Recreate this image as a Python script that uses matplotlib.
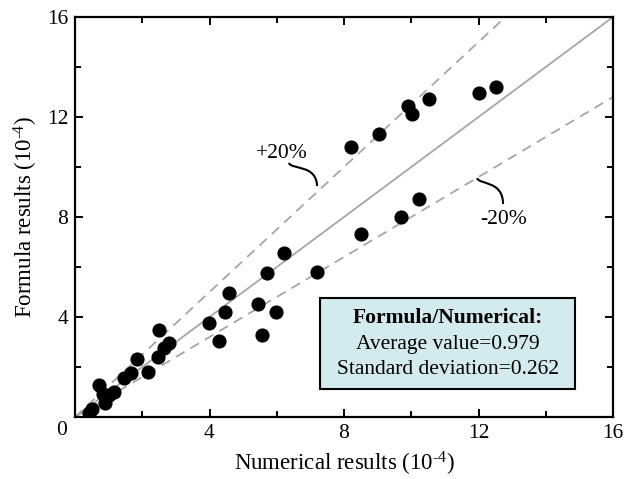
import matplotlib
matplotlib.use("Agg")
import matplotlib.pyplot as plt
import numpy as np
from matplotlib.path import Path
from matplotlib.patches import PathPatch, Rectangle

plt.rcParams['font.family'] = ['Liberation Serif', 'DejaVu Serif']
plt.rcParams['mathtext.fontset'] = 'custom'
plt.rcParams['mathtext.rm'] = 'Liberation Serif'
plt.rcParams['mathtext.it'] = 'Liberation Serif:italic'

# Numerical vs formula results (units of 1e-4)
numerical = [0.43, 0.50, 0.72, 0.82, 0.89, 1.02, 1.17, 1.47, 1.66, 1.85, 2.18,
             2.48, 2.51, 2.66, 2.80, 3.99, 4.29, 4.46, 4.57, 5.44, 5.56, 5.71,
             5.98, 6.22, 7.19, 8.51, 9.70, 10.22, 8.21, 9.03, 9.90, 10.02,
             10.52, 12.02, 12.52]
formula = [0.15, 0.31, 1.28, 0.91, 0.55, 0.88, 1.01, 1.55, 1.77, 2.31, 1.81,
           2.41, 3.48, 2.77, 2.97, 3.75, 3.05, 4.19, 4.96, 4.52, 3.29, 5.77,
           4.19, 6.57, 5.81, 7.31, 8.01, 8.71, 10.80, 11.33, 12.44, 12.13,
           12.72, 12.97, 13.19]

axis_max = 16
major_ticks = [0, 4, 8, 12, 16]
tick_labels = ['', '4', '8', '12', '16']
upper_factor = 1 / 0.8   # +20% bound
lower_factor = 0.8       # -20% bound

box_lines = ['Formula/Numerical:', 'Average value=0.979', 'Standard deviation=0.262']

FS = 15.5

fig = plt.figure(figsize=(6.24, 4.79), dpi=100)
ax = fig.add_axes([75/624, 1-417/479, 538/624, 400/479])

line_color = '#a6a6a6'
xs = np.array([0, axis_max])
ax.plot(xs, xs, color=line_color, lw=1.3, zorder=1)
ax.plot(xs, upper_factor * xs, color=line_color, lw=1.3, ls=(0, (5.5, 3.8)), zorder=1)
ax.plot(xs, lower_factor * xs, color=line_color, lw=1.3, ls=(0, (5.5, 3.8)), zorder=1)

ax.plot(numerical, formula, 'o', color='black', ms=9.2, zorder=3)

ax.set_xlim(0, axis_max)
ax.set_ylim(0, axis_max)
ax.set_xticks(major_ticks)
ax.set_yticks(major_ticks)
ax.set_xticklabels(tick_labels)
ax.set_yticklabels(tick_labels)
ax.set_xticks([2, 6, 10, 14], minor=True)
ax.set_yticks([2, 6, 10, 14], minor=True)
ax.tick_params(which='both', direction='in', top=True, right=True,
               labelsize=FS, width=1.4, colors='black')
ax.tick_params(which='major', length=6, pad=5)
ax.tick_params(which='minor', length=4)
for sp in ax.spines.values():
    sp.set_linewidth(1.6)

ax.text(-0.39, -0.55, '0', fontsize=FS, ha='center', va='center', clip_on=False)

ax.set_xlabel('Numerical results (10$^{\u20104}$)', fontsize=16.5, labelpad=5)
ax.set_ylabel('Formula results (10$^{\u20104}$)', fontsize=16.5, labelpad=5)

# Deviation band labels with curved leaders
ax.text(6.16, 10.56, '+20%', fontsize=FS, ha='center', va='center')
ax.text(12.76, 7.88, '-20%', fontsize=FS, ha='center', va='center')
codes = [Path.MOVETO, Path.CURVE4, Path.CURVE4, Path.CURVE4]
ax.add_patch(PathPatch(Path([(6.36, 10.16), (6.45, 9.88), (7.17, 10.12), (7.20, 9.24)], codes),
                       fc='none', ec='black', lw=1.5, zorder=2))
ax.add_patch(PathPatch(Path([(11.96, 9.56), (12.01, 9.28), (12.73, 9.48), (12.73, 8.52)], codes),
                       fc='none', ec='black', lw=1.5, zorder=2))

# Summary box
ax.add_patch(Rectangle((7.29, 1.12), 7.59, 3.64, fc='#d3ebef', ec='black', lw=1.5, zorder=4))
ax.text(11.09, 3.96, box_lines[0], fontsize=FS, fontweight='bold', ha='center', va='center', zorder=5)
ax.text(11.09, 2.92, box_lines[1], fontsize=FS, ha='center', va='center', zorder=5)
ax.text(11.09, 1.88, box_lines[2], fontsize=FS, ha='center', va='center', zorder=5)

fig.savefig('out.png', dpi=100)
